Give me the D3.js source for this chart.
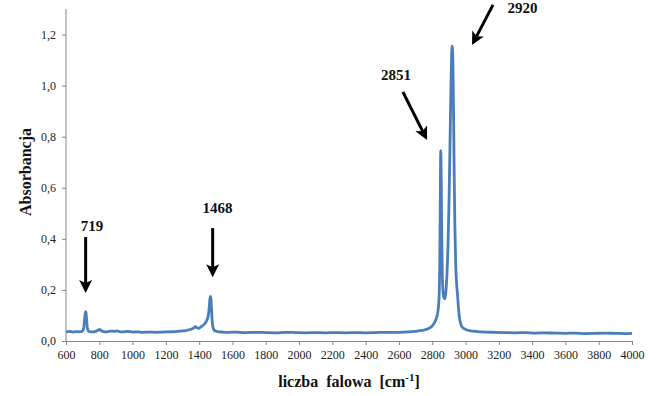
<!DOCTYPE html>
<html><head><meta charset="utf-8">
<script src="https://cdn.jsdelivr.net/npm/d3@7"></script>
<style>body{margin:0;background:#fff}svg{display:block}</style>
</head><body>
<svg id="c" width="657" height="396"></svg>
<script>
const wavenumber = [600,620,640,660,680,700,706,710,714,717,719,721,724,728,733,740,760,780,795,802,810,825,845,870,890,905,920,940,970,1000,1030,1060,1100,1140,1180,1220,1260,1290,1320,1345,1365,1378,1388,1398,1412,1428,1442,1452,1458,1462,1465,1468,1471,1474,1477,1481,1487,1495,1510,1540,1580,1620,1680,1740,1800,1860,1920,1980,2040,2100,2160,2220,2280,2340,2400,2460,2520,2580,2630,2680,2720,2750,2775,2795,2810,2825,2835,2841,2845,2848,2851,2854,2857,2861,2866,2871,2877,2883,2889,2895,2901,2907,2912,2916,2920,2924,2928,2932,2936,2941,2946,2952,2958,2965,2975,2988,3005,3030,3070,3120,3180,3240,3300,3360,3420,3480,3540,3600,3660,3720,3780,3840,3900,3960,4000];
const absorbance = [0.036,0.038,0.035,0.037,0.036,0.039,0.048,0.072,0.100,0.112,0.115,0.108,0.080,0.052,0.041,0.037,0.036,0.038,0.043,0.045,0.041,0.037,0.036,0.039,0.038,0.040,0.037,0.036,0.038,0.035,0.036,0.034,0.035,0.034,0.035,0.036,0.037,0.039,0.041,0.045,0.050,0.056,0.051,0.050,0.056,0.064,0.076,0.092,0.115,0.145,0.168,0.175,0.165,0.128,0.088,0.060,0.045,0.040,0.037,0.035,0.034,0.035,0.033,0.034,0.033,0.032,0.034,0.033,0.032,0.033,0.032,0.033,0.032,0.033,0.032,0.033,0.034,0.034,0.035,0.037,0.040,0.043,0.048,0.056,0.068,0.090,0.120,0.170,0.300,0.520,0.745,0.640,0.420,0.250,0.185,0.168,0.165,0.200,0.270,0.380,0.550,0.780,0.980,1.110,1.155,1.100,0.900,0.650,0.450,0.300,0.230,0.180,0.125,0.085,0.060,0.050,0.044,0.040,0.037,0.035,0.034,0.033,0.032,0.033,0.031,0.032,0.031,0.030,0.031,0.029,0.030,0.031,0.030,0.029,0.030];
const xTicks = d3.range(600, 4001, 200);
const yTicks = [0, 0.2, 0.4, 0.6, 0.8, 1.0, 1.2];
const peakLabels = ["719", "1468", "2851", "2920"];
// arrow tail/tip and label anchor in data coordinates (wavenumber, absorbance)
const arrowTail = [[718,0.407],[1481,0.442],[2624,0.975],[3165,1.316]];
const arrowTip  = [[718,0.188],[1481,0.250],[2769,0.787],[3039,1.159]];
const labelPos  = [[756,0.432],[1510,0.502],[2582,1.022],[3342,1.284]];

const svg = d3.select("#c");
const m = {l:66, r:25, t:9, b:55};
const W = 657, H = 396;
const x = d3.scaleLinear().domain([600,4000]).range([m.l, W-m.r]);
const y = d3.scaleLinear().domain([0,1.3]).range([H-m.b, m.t]);

const serif = "'Liberation Serif','Times New Roman',serif";
const axisColor = "#868686";

const gx = svg.append("g").attr("transform",`translate(0,${H-m.b})`)
  .call(d3.axisBottom(x).tickValues(xTicks).tickSize(4).tickSizeOuter(0).tickFormat(d3.format("d")));
const gy = svg.append("g").attr("transform",`translate(${m.l},0)`)
  .call(d3.axisLeft(y).tickValues(yTicks).tickSize(4).tickSizeOuter(0).tickFormat(d => d.toFixed(1).replace(".", ",")));
[gx, gy].forEach(g => {
  g.select(".domain").attr("stroke", axisColor).attr("stroke-width", 1);
  g.selectAll(".tick line").attr("stroke", axisColor);
  g.selectAll(".tick text").attr("font-family", serif).attr("font-size", 12).attr("fill", "#222");
});
gx.selectAll(".tick text").attr("dy", "0.95em");
gy.selectAll(".tick text").attr("dx", "-3");
gy.select(".domain").attr("d", `M0,${y(1.3)}V${y(0)}`);

const line = d3.line().x((d,i) => x(wavenumber[i])).y(d => y(d)).curve(d3.curveMonotoneX);
svg.append("path").datum(absorbance).attr("d", line)
  .attr("fill","none").attr("stroke","#4A7EBB").attr("stroke-width",2.8).attr("stroke-linejoin","round");

// titles
const xt = svg.append("text").attr("x", (m.l + W - m.r)/2).attr("y", 387).attr("text-anchor","middle")
  .attr("font-family", serif).attr("font-weight","bold").attr("font-size",16).attr("fill","#111")
  .style("white-space","pre");
xt.append("tspan").text("liczba  falowa  [cm");
xt.append("tspan").attr("dy",-6).attr("font-size",11).text("-1");
xt.append("tspan").attr("dy",6).text("]");
svg.append("text").attr("transform","translate(31,172) rotate(-90)").attr("text-anchor","middle")
  .attr("font-family", serif).attr("font-weight","bold").attr("font-size",16).attr("fill","#111")
  .text("Absorbancja");

// annotations
const ann = svg.append("g");
peakLabels.forEach((lab, i) => {
  const [x0,y0] = [x(arrowTail[i][0]), y(arrowTail[i][1])];
  const [x1,y1] = [x(arrowTip[i][0]), y(arrowTip[i][1])];
  const ang = Math.atan2(y1-y0, x1-x0);
  const hl = 13, hw = 6.5;
  const bx = x1 - hl*Math.cos(ang), by = y1 - hl*Math.sin(ang);
  const px = -Math.sin(ang), py = Math.cos(ang);
  ann.append("line").attr("x1",x0).attr("y1",y0).attr("x2",bx + 3*Math.cos(ang)).attr("y2",by + 3*Math.sin(ang))
    .attr("stroke","#000").attr("stroke-width",3);
  ann.append("path").attr("d", `M${x1},${y1}L${bx+px*hw},${by+py*hw}L${bx+3*Math.cos(ang)},${by+3*Math.sin(ang)}L${bx-px*hw},${by-py*hw}Z`)
    .attr("fill","#000");
  ann.append("text").attr("x", x(labelPos[i][0])).attr("y", y(labelPos[i][1])).attr("text-anchor","middle")
    .attr("font-family", serif).attr("font-weight","bold").attr("font-size",15).attr("fill","#111").text(lab);
});
</script>
</body></html>
